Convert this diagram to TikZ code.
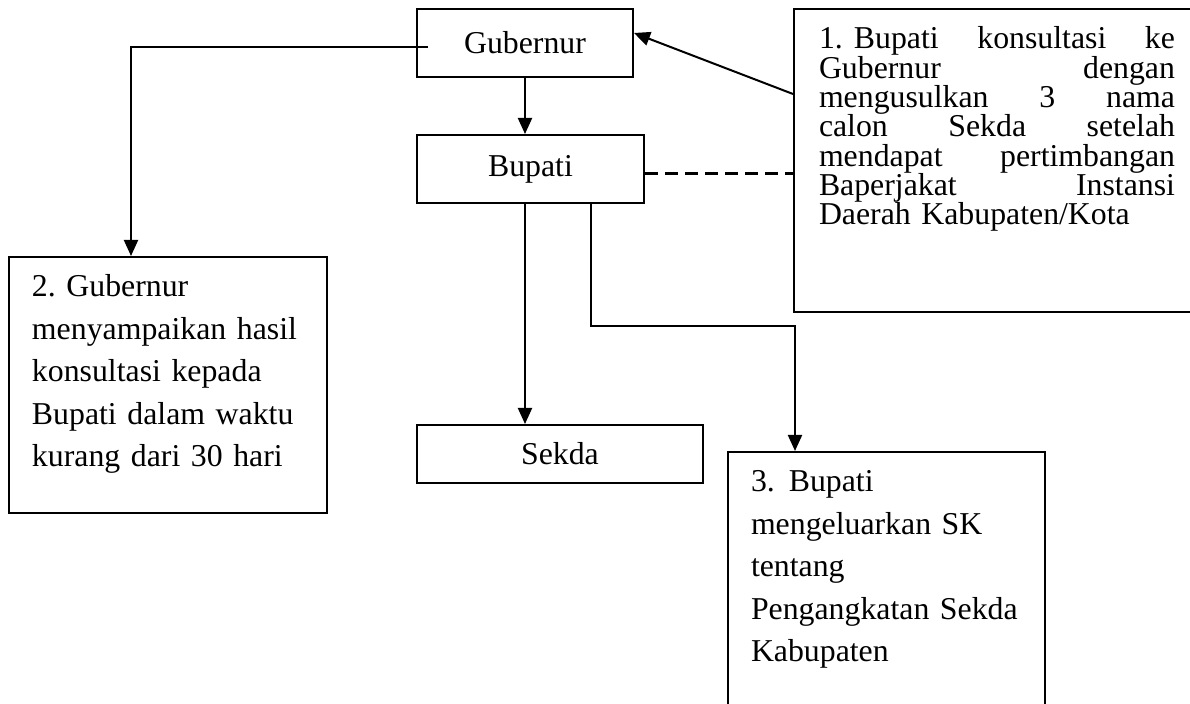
\documentclass[tikz,border=0pt]{standalone}
\usepackage{fontspec}
\setmainfont{Liberation Serif}
\usetikzlibrary{arrows.meta}
\frenchspacing

\begin{document}
\begin{tikzpicture}[x=0.5pt, y=-0.5pt, line width=1pt,
    kotak/.style={draw, inner sep=0pt, font=\fontsize{15.9}{19}\selectfont},
    teks/.style={anchor=base west, inner sep=0pt},
    panah/.style={-{Triangle[length=8pt,width=7pt]}},
    putus/.style={line width=1.5pt, dash pattern=on 6.5pt off 3.5pt}]
    \path[use as bounding box, clip] (0,0) rectangle (1190,704);
    % kotak utama
    \node[kotak, minimum width=108pt, minimum height=34pt] (gub) at (525,43) {Gubernur};
    \node[kotak, minimum width=113.5pt, minimum height=34pt] (bup) at (530.5,169) {Bupati};
    \node[kotak, minimum width=143pt, minimum height=29pt] (sek) at (560,454) {Sekda};
    \node[kotak, minimum width=202pt, minimum height=151.5pt] (b1) at (996,160.5) {};
    \node[kotak, minimum width=159pt, minimum height=128pt] (b2) at (168,385) {};
    \node[kotak, minimum width=158.5pt, minimum height=154pt] (b3) at (886.5,606) {};
    % isi kotak
    \node[teks, text width=178pt, font=\fontsize{15.9}{14.65}\selectfont] (t1) at (818,49)
        {\hangindent=17.5pt\hangafter=1\noindent\makebox[17.5pt][l]{1.}Bupati\hfill konsultasi\hfill ke\\
         Gubernur\hfill dengan\\
         mengusulkan\hfill 3\hfill nama\\
         calon\hfill Sekda\hfill setelah\\
         mendapat\hfill pertimbangan\\
         Baperjakat\hfill Instansi\\
         Daerah Kabupaten/Kota};
    \node[teks, text width=145pt, font=\fontsize{15.9}{21.25}\selectfont] (t2) at (31,297)
        {\raggedright 2. Gubernur\\ menyampaikan hasil\\ konsultasi kepada\\ Bupati dalam waktu\\ kurang dari 30 hari};
    \node[teks, text width=145pt, font=\fontsize{15.9}{21.25}\selectfont] (t3) at (750,492)
        {\raggedright 3.\hspace{7pt}Bupati\\ mengeluarkan SK\\ tentang\\ Pengangkatan Sekda\\ Kabupaten};
    % garis
    \draw[panah] (gub.south) -- (gub.south |- bup.north);
    \draw[panah] (gub.south |- bup.south) -- (gub.south |- sek.north);
    \draw[panah] ([xshift=30.25pt]bup.south) -- ++(0,122) -| ([xshift=34pt]b3.north west);
    \draw[panah] ([yshift=-43pt]b1.north west) -- ([yshift=5pt]gub.east);
    \draw[putus] ([yshift=-2.5pt]bup.east) -- ([yshift=-2.5pt]bup.east -| b1.west);
    \draw[panah] ([xshift=6pt,yshift=-2pt]gub.west) -| ([xshift=61.5pt]b2.north west);
\end{tikzpicture}
\end{document}
